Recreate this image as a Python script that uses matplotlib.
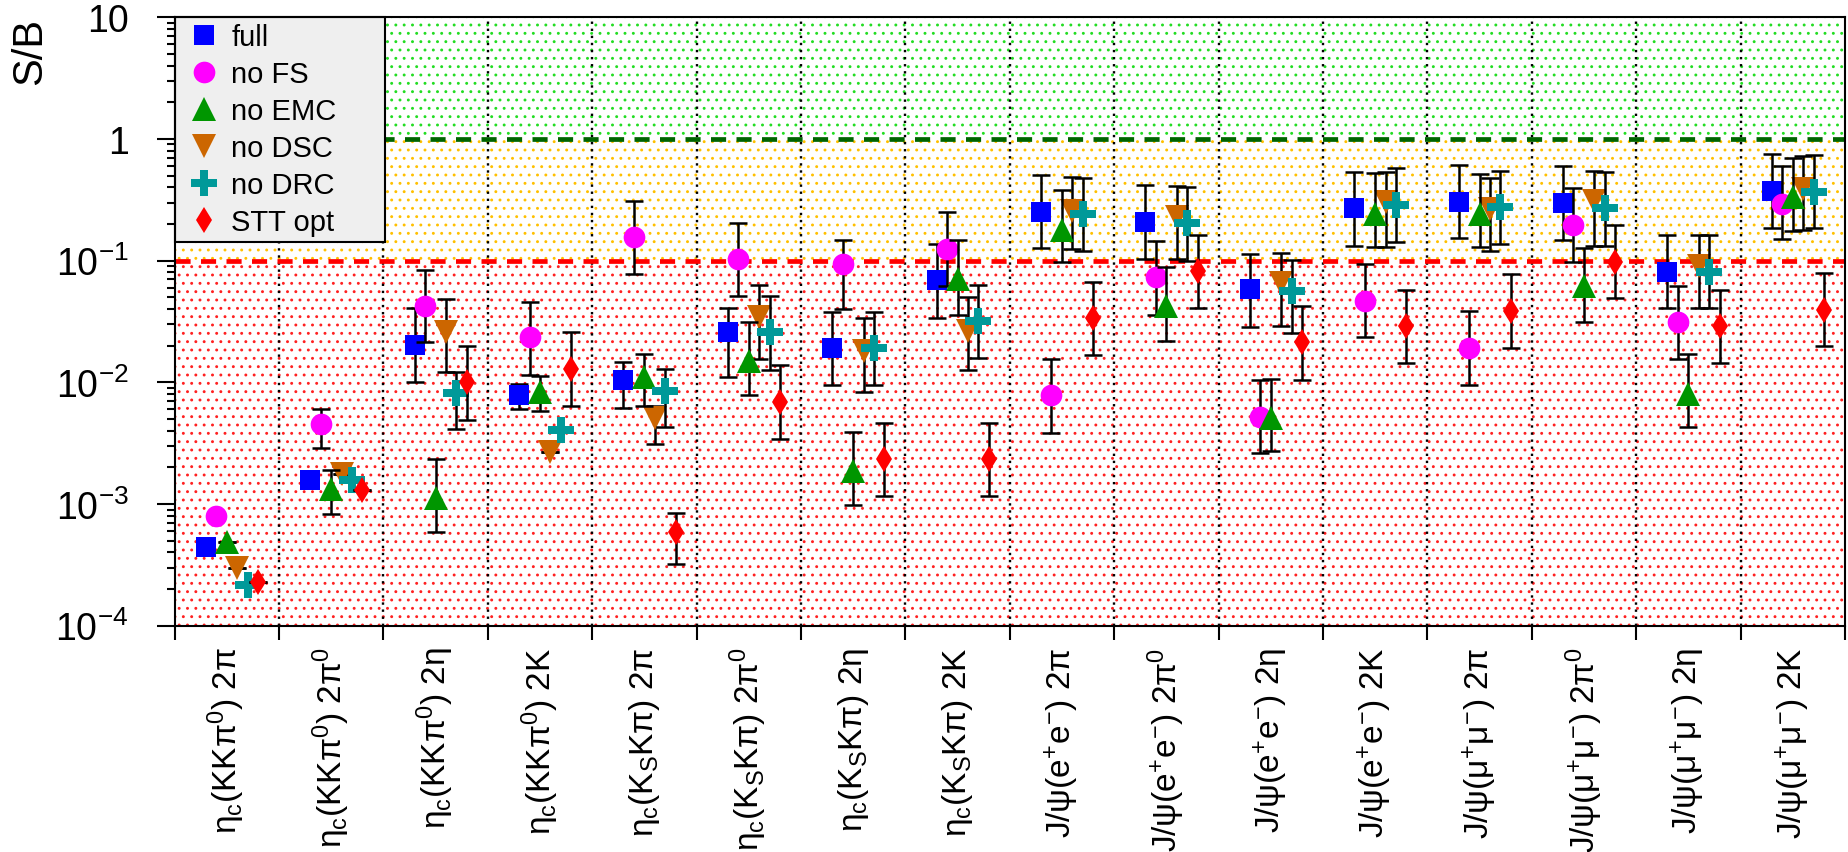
import numpy as np
import matplotlib.pyplot as plt
from matplotlib.lines import Line2D
from matplotlib.ticker import LogLocator, NullFormatter

plt.rcParams['font.family'] = ['Liberation Sans', 'DejaVu Sans']
plt.rcParams['mathtext.fontset'] = 'custom'
plt.rcParams['mathtext.rm'] = 'Liberation Sans'
plt.rcParams['mathtext.it'] = 'Liberation Sans:italic'
plt.rcParams['mathtext.bf'] = 'Liberation Sans:bold'
plt.rcParams['hatch.linewidth'] = 0.9

# decay channels, one column each
channels = [
    r'$\mathregular{\eta_{c}(KK\pi^{0})\ 2\pi}$',
    r'$\mathregular{\eta_{c}(KK\pi^{0})\ 2\pi^{0}}$',
    r'$\mathregular{\eta_{c}(KK\pi^{0})\ 2\eta}$',
    r'$\mathregular{\eta_{c}(KK\pi^{0})\ 2K}$',
    r'$\mathregular{\eta_{c}(K_{S}K\pi)\ 2\pi}$',
    r'$\mathregular{\eta_{c}(K_{S}K\pi)\ 2\pi^{0}}$',
    r'$\mathregular{\eta_{c}(K_{S}K\pi)\ 2\eta}$',
    r'$\mathregular{\eta_{c}(K_{S}K\pi)\ 2K}$',
    r'$\mathregular{J/\psi(e^{+}e^{-})\ 2\pi}$',
    r'$\mathregular{J/\psi(e^{+}e^{-})\ 2\pi^{0}}$',
    r'$\mathregular{J/\psi(e^{+}e^{-})\ 2\eta}$',
    r'$\mathregular{J/\psi(e^{+}e^{-})\ 2K}$',
    r'$\mathregular{J/\psi(\mu^{+}\mu^{-})\ 2\pi}$',
    r'$\mathregular{J/\psi(\mu^{+}\mu^{-})\ 2\pi^{0}}$',
    r'$\mathregular{J/\psi(\mu^{+}\mu^{-})\ 2\eta}$',
    r'$\mathregular{J/\psi(\mu^{+}\mu^{-})\ 2K}$',
]

# S/B per channel and the lower / upper end of its error bar
full = [4.4e-4, 1.56e-3, 0.0202, 7.9e-3, 0.0105, 0.026, 0.019, 0.069,
        0.252, 0.209, 0.0585, 0.268, 0.305, 0.297, 0.081, 0.376]
full_lo = [4.4e-4, 1.56e-3, 0.010, 6.0e-3, 6.2e-3, 0.011, 9.5e-3, 0.034,
           0.126, 0.104, 0.0283, 0.132, 0.152, 0.149, 0.0405, 0.185]
full_hi = [4.4e-4, 1.56e-3, 0.0405, 9.6e-3, 0.0148, 0.041, 0.038, 0.137,
           0.508, 0.418, 0.113, 0.537, 0.61, 0.596, 0.162, 0.751]

no_fs = [8.0e-4, 4.5e-3, 0.0427, 0.0234, 0.155, 0.103, 0.094, 0.124,
         7.8e-3, 0.073, 5.2e-3, 0.0468, 0.0191, 0.196, 0.0311, 0.292]
no_fs_lo = [8.0e-4, 2.9e-3, 0.0214, 0.0115, 0.078, 0.0515, 0.040, 0.062,
            3.8e-3, 0.036, 2.6e-3, 0.0234, 9.55e-3, 0.098, 0.0155, 0.151]
no_fs_hi = [8.0e-4, 6.0e-3, 0.084, 0.046, 0.31, 0.204, 0.148, 0.249,
            0.0155, 0.146, 0.0105, 0.094, 0.0383, 0.393, 0.0622, 0.603]

no_emc = [4.9e-4, 1.32e-3, 1.13e-3, 8.3e-3, 0.011, 0.0151, 1.88e-3, 0.0706,
          0.18, 0.0427, 5.1e-3, 0.241, 0.241, 0.0615, 8.0e-3, 0.331]
no_emc_lo = [4.9e-4, 8.3e-4, 5.9e-4, 5.85e-3, 6.4e-3, 7.8e-3, 9.8e-4, 0.036,
             0.097, 0.022, 2.7e-3, 0.129, 0.129, 0.0311, 4.27e-3, 0.174]
no_emc_hi = [4.9e-4, 1.9e-3, 2.35e-3, 0.0112, 0.017, 0.031, 3.9e-3, 0.148,
             0.383, 0.088, 0.0106, 0.525, 0.51, 0.126, 0.0171, 0.697]

no_dsc = [3.0e-4, 1.78e-3, 0.0257, 2.66e-3, 5.1e-3, 0.0342, 0.0182, 0.0265,
          0.257, 0.227, 0.066, 0.301, 0.265, 0.31, 0.0908, 0.387]
no_dsc_lo = [3.0e-4, 1.78e-3, 0.0121, 2.66e-3, 3.1e-3, 0.0155, 8.4e-3, 0.0125,
             0.124, 0.103, 0.0288, 0.13, 0.12, 0.132, 0.0405, 0.18]
no_dsc_hi = [3.0e-4, 1.78e-3, 0.048, 2.66e-3, 6.4e-3, 0.063, 0.0336, 0.050,
             0.49, 0.41, 0.115, 0.537, 0.48, 0.54, 0.162, 0.73]

no_drc = [2.17e-4, 1.56e-3, 8.1e-3, 4.07e-3, 8.5e-3, 0.0257, 0.0191, 0.032,
          0.241, 0.204, 0.0566, 0.286, 0.274, 0.268, 0.081, 0.368]
no_drc_lo = [2.17e-4, 1.56e-3, 4.1e-3, 4.07e-3, 4.3e-3, 0.0127, 9.5e-3, 0.0158,
             0.12, 0.1, 0.0254, 0.143, 0.137, 0.132, 0.0405, 0.185]
no_drc_hi = [2.17e-4, 1.56e-3, 0.0121, 4.07e-3, 0.0129, 0.051, 0.038, 0.063,
             0.48, 0.405, 0.1016, 0.573, 0.548, 0.537, 0.162, 0.74]

stt_opt = [2.3e-4, 1.3e-3, 0.010, 0.0129, 5.9e-4, 6.9e-3, 2.34e-3, 2.34e-3,
           0.0337, 0.0826, 0.0213, 0.0288, 0.0383, 0.097, 0.0288, 0.0395]
stt_opt_lo = [2.3e-4, 1.3e-3, 4.9e-3, 6.35e-3, 3.2e-4, 3.45e-3, 1.16e-3, 1.16e-3,
              0.0168, 0.0405, 0.0105, 0.0144, 0.0191, 0.049, 0.0144, 0.0198]
stt_opt_hi = [2.3e-4, 1.3e-3, 0.0198, 0.0257, 8.4e-4, 0.0138, 4.6e-3, 4.6e-3,
              0.067, 0.163, 0.042, 0.0577, 0.078, 0.196, 0.0577, 0.079]

# name, values, low, high, marker, colour, marker size, offset in column, zorder
series = [
    ('full', full, full_lo, full_hi, 's', '#0000ff', 14.6, 0.3, 3),
    ('no FS', no_fs, no_fs_lo, no_fs_hi, 'o', '#ff00ff', 15.6, 0.4, 4),
    ('no EMC', no_emc, no_emc_lo, no_emc_hi, '^', '#009600', 17, 0.5, 6),
    ('no DSC', no_dsc, no_dsc_lo, no_dsc_hi, 'v', '#cc6600', 17, 0.6, 5),
    ('no DRC', no_drc, no_drc_lo, no_drc_hi, 'P', '#009999', 19, 0.7, 7),
    ('STT opt', stt_opt, stt_opt_lo, stt_opt_hi, 'd', '#ff0000', 13.5, 0.8, 8),
]

fig = plt.figure(figsize=(18.49, 8.53), dpi=100)
ax = fig.add_axes([0.0944, 0.2653, 0.9034, 0.7134])
ax.set_yscale('log')
ax.set_xlim(0, len(channels))
ax.set_ylim(1e-4, 10)

# dotted background bands: good / fair / poor S/B
ax.axhspan(1, 10, facecolor='white', edgecolor='#22dd22', hatch='..', linewidth=0, zorder=0)
ax.axhspan(0.1, 1, facecolor='white', edgecolor='#ffc000', hatch='..', linewidth=0, zorder=0)
ax.axhspan(1e-4, 0.1, facecolor='white', edgecolor='#ff2020', hatch='..', linewidth=0, zorder=0)

for b in range(1, len(channels)):
    ax.axvline(b, color='black', lw=1.7, dashes=(1.0, 2.0), zorder=1)

ax.axhline(1, color='#006400', lw=3.4, dashes=(3.2, 2.2), zorder=2)
ax.axhline(0.1, color='#ff0000', lw=3.4, dashes=(3.2, 2.2), zorder=2)

handles = []
for name, vals, lo, hi, marker, color, ms, off, z in series:
    x = np.arange(len(channels)) + off
    y = np.array(vals)
    yerr = [y - np.array(lo), np.array(hi) - y]
    ax.errorbar(x, y, yerr=yerr, fmt='none', ecolor='black', elinewidth=1.8,
                capsize=6.5, capthick=1.8, zorder=z)
    ax.plot(x, y, ls='none', marker=marker, ms=ms, color=color, mew=0, zorder=z + 0.5)
    handles.append(Line2D([], [], ls='none', marker=marker, ms=ms, color=color, mew=0))

leg = ax.legend(handles, [s[0] for s in series], loc='upper left',
                bbox_to_anchor=(0, 0, 0.1257, 1), mode='expand', fontsize=21,
                frameon=True, fancybox=False, edgecolor='black', facecolor='#efefef',
                framealpha=1, borderpad=0.2, labelspacing=0.31, handlelength=1.6,
                handletextpad=0.15, borderaxespad=0)
leg.get_frame().set_linewidth(1.5)
leg.set_zorder(20)

# column boundaries get the ticks, channel names sit in between
ax.set_xticks(np.arange(len(channels) + 1))
ax.set_xticklabels([])
ax.set_xticks(np.arange(len(channels)) + 0.5, minor=True)
ax.set_xticklabels(channels, minor=True, rotation=90, fontsize=24)
ax.tick_params(axis='x', which='minor', length=0, pad=15)
ax.tick_params(axis='x', which='major', length=10, width=1.5, direction='out')

decades = [1e-4, 1e-3, 1e-2, 1e-1, 1, 10]
ax.set_yticks(decades)
ax.set_yticklabels([r'$\mathregular{10^{-4}}$', r'$\mathregular{10^{-3}}$',
                    r'$\mathregular{10^{-2}}$', r'$\mathregular{10^{-1}}$', '1', '10'])
ax.yaxis.set_minor_locator(LogLocator(base=10, subs=range(2, 10)))
ax.yaxis.set_minor_formatter(NullFormatter())
ax.tick_params(axis='y', which='major', length=13, width=1.5, direction='out',
               labelsize=27, pad=20)
ax.tick_params(axis='y', which='minor', length=6, width=1.5, direction='out')
ax.tick_params(top=False, right=False, which='both')

ax.set_ylabel('S/B', fontsize=30, loc='top')
ax.yaxis.set_label_coords(-0.0745, 1.0)

for sp in ax.spines.values():
    sp.set_linewidth(1.5)
    sp.set_zorder(25)

fig.savefig('out.png', dpi=100)
